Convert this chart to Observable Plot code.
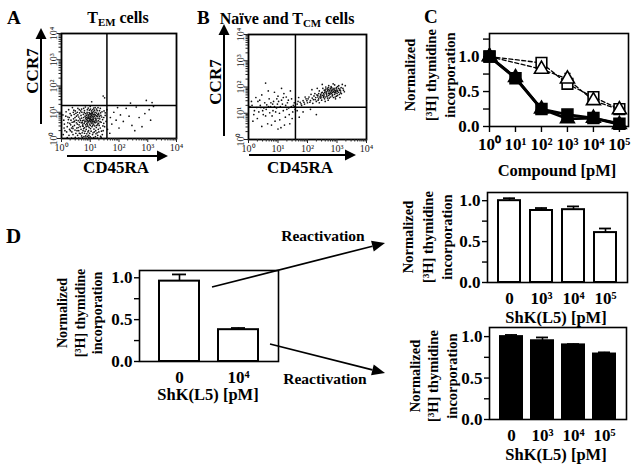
<!DOCTYPE html>
<html><head><meta charset="utf-8">
<script src="https://cdn.jsdelivr.net/npm/d3@7"></script>
<script src="https://cdn.jsdelivr.net/npm/@observablehq/plot@0.6"></script>
<style>
body{margin:0;background:#fff;}
#fig{position:relative;width:638px;height:464px;overflow:hidden;background:#fff;font-family:"Liberation Serif","Times New Roman",serif;}
#fig .p{position:absolute;}
#fig svg{overflow:visible;}
</style></head><body><div id="fig"></div>
<script>
// ---------- data ----------
// flow cytometry events, log10 units (CD45RA, CCR7)
const flowA = `0.72,0.62 0.78,0.70 0.85,0.66 0.90,0.75 0.95,0.81 1.00,0.72 1.05,0.88 1.10,0.79 1.15,0.93 1.20,0.70 1.25,0.84 1.02,0.95 0.93,0.90 0.88,0.58 0.98,0.55 1.08,0.63 1.18,0.60 1.28,0.68 1.12,1.02 1.04,1.05 0.96,0.99 0.82,0.85 0.76,0.92 0.70,0.78 0.66,0.69 1.22,0.97 1.30,0.90 1.33,0.75 1.26,0.55 1.16,0.48 1.06,0.45 0.92,0.47 0.84,0.52 0.80,0.41 1.00,0.83 1.07,0.74 1.14,0.85 0.99,0.64 0.91,0.68 0.87,0.80 1.03,0.60 1.11,0.91 1.19,0.78 1.24,1.06 1.09,1.10 0.97,1.08 0.89,1.00 0.79,0.99 0.74,0.55 0.68,0.88 1.36,0.98 1.40,0.82 1.38,0.62 1.31,0.50 1.21,0.42 1.13,0.36 1.01,0.38 0.94,0.30 0.86,0.35 1.05,0.97
0.81,0.63 0.86,0.72 0.92,0.60 0.97,0.70 1.01,0.78 1.06,0.68 1.11,0.72 1.16,0.66 1.21,0.86 1.27,0.77 1.09,0.84 1.03,0.90 0.95,0.86 0.89,0.94 0.84,0.78 0.77,0.80 0.73,0.68 0.79,0.58 0.90,0.52 1.00,0.50 1.12,0.55 1.23,0.63 1.32,0.83 1.17,1.00 1.07,1.00 0.99,0.91 0.94,0.77 1.04,0.82 1.13,0.78 1.18,0.90 0.87,0.88 0.83,0.95 0.71,1.00 0.75,0.47 0.96,0.42 1.09,0.50 1.23,0.50 1.29,0.96 1.02,0.66 0.93,0.64 0.98,0.96 1.14,0.62 1.08,0.94 0.91,0.82 1.20,0.74 1.26,0.91 0.86,0.45 1.34,0.64 1.37,0.88 0.69,0.60 1.15,1.08 0.80,1.06 1.01,1.12 1.22,1.12 0.90,1.10 1.29,0.58 1.06,0.57 0.97,0.76 1.10,0.66 1.04,0.71
0.15,0.85 0.22,0.60 0.30,0.95 0.35,0.40 0.42,0.75 0.48,1.05 0.55,0.55 0.60,0.30 0.63,0.98 0.50,0.20 0.40,0.15 0.28,0.35 0.18,0.25 0.10,0.55 0.05,0.90 0.25,1.10 0.38,1.18 0.57,1.15 0.70,1.12 0.83,1.20 1.00,1.22 1.17,1.18 1.35,1.15 1.48,1.05 1.52,0.88 1.55,0.65 1.50,0.45 1.45,0.30 1.42,0.15 1.30,0.25 1.20,0.18 1.10,0.22 0.95,0.12 0.80,0.20 0.70,0.10 0.65,0.45 0.45,0.50 0.33,0.70 0.52,0.85 0.58,0.68 0.47,0.32 0.62,0.20 0.75,0.30 0.55,1.00 0.44,0.92 0.20,0.45 0.12,0.30 0.08,0.70 0.32,0.52 0.27,0.80 1.58,1.10 1.60,0.35 1.47,0.58 1.43,0.72 0.67,1.05 0.37,0.62 0.53,0.40 0.73,0.48 0.60,0.82 0.41,1.00
0.24,0.72 0.29,0.58 0.34,0.88 0.39,0.45 0.43,0.63 0.47,0.80 0.51,0.70 0.54,0.30 0.57,0.90 0.61,0.52 0.64,0.75 0.36,0.25 0.43,1.08 0.52,0.60 0.58,0.42 0.63,0.62 0.68,0.35 0.72,0.22 0.77,0.38 0.82,0.28 0.88,0.18 0.92,0.25 0.98,0.20 1.03,0.28 1.08,0.15 1.14,0.25 1.19,0.30 1.24,0.22 1.28,0.35 1.35,0.40 1.39,0.28 1.44,0.48 1.47,0.80 1.52,0.98 1.41,1.02 1.32,1.06 1.27,1.18 1.12,1.16 0.93,1.16 0.77,1.15 0.62,1.10 0.50,0.96 0.45,0.66 0.40,0.38 0.31,0.30 0.22,0.82 0.16,1.02 0.09,0.40 0.06,0.15 0.26,0.12 0.56,0.12 0.66,0.18 0.84,0.10 1.26,0.12 1.36,0.08
0.20,0.03 0.35,0.02 0.48,0.04 0.60,0.02 0.72,0.03 0.85,0.02 0.95,0.04 1.05,0.02 1.12,0.03 1.25,0.02 1.38,0.04 0.90,0.08 1.00,0.06 0.78,0.07 1.18,0.07
1.70,0.80 1.75,0.55 1.82,1.00 1.90,0.70 2.00,0.40 2.05,0.90 2.15,0.65 2.25,1.15 2.35,0.85 2.45,0.50 2.60,1.20 2.70,0.80 2.90,0.95 3.05,1.10 3.20,1.22 2.55,0.30 1.68,0.20 1.95,1.18 2.80,0.45 3.10,0.70
1.45,1.62 1.50,1.55 2.40,1.35 2.95,1.45 3.15,1.37 1.05,1.40`;
const flowB = `2.50,1.80 2.60,1.85 2.70,1.90 2.80,1.82 2.90,1.95 3.00,1.88 3.10,1.92 2.75,1.75 2.85,1.70 2.95,1.78 3.05,1.80 2.65,1.70 2.55,1.65 2.45,1.72 2.35,1.68 2.40,1.85 2.52,1.95 2.62,2.00 2.72,2.05 2.82,1.98 2.92,2.08 3.02,2.02 3.12,1.85 3.20,1.95 3.15,1.75 2.98,1.65 2.88,1.60 2.78,1.62 2.68,1.58 2.58,1.55 2.48,1.50 2.38,1.55 2.28,1.60 2.25,1.75 2.30,1.45 2.20,1.52 2.18,1.38 2.10,1.48 2.05,1.62 2.12,1.72 2.00,1.40 1.95,1.55 1.90,1.35 1.85,1.48 1.80,1.30 1.75,1.42 1.70,1.60 1.65,1.35 2.42,1.62 2.73,1.82 2.83,1.88 2.93,1.86 2.63,1.78 3.08,1.72 3.25,1.82 3.28,2.05 2.87,2.12 2.57,1.88 2.67,1.93 2.77,1.96 2.97,1.93 3.18,2.10 2.15,1.90 2.33,1.95 2.50,2.10 2.95,1.55 3.10,1.60 2.60,1.45 2.40,1.40 2.70,1.50
2.55,1.75 2.65,1.82 2.75,1.88 2.85,1.80 2.95,1.85 3.05,1.95 2.70,1.98 2.80,2.02 2.90,1.90 3.00,1.76 2.60,1.62 2.72,1.68 2.82,1.75 2.92,1.72 3.02,1.68 2.45,1.58 2.35,1.62 2.50,1.68 2.62,1.92 2.78,1.78 2.88,1.83 2.98,1.98 3.08,1.88 3.14,1.98 2.68,1.86 2.58,1.80 2.48,1.78 2.38,1.75 2.86,1.92 2.76,1.72 2.66,1.64 2.96,1.82 3.06,2.05 2.84,1.66 2.94,1.62 2.74,1.58 2.54,1.60 2.44,1.66 2.32,1.70 2.22,1.66 2.26,1.52 2.16,1.58 2.08,1.42 1.98,1.48 1.88,1.42 1.78,1.36 1.68,1.45 1.92,1.62 2.02,1.55 2.36,1.50 3.22,1.88 3.12,1.78 2.71,1.76 2.81,1.86 2.91,1.79 2.64,1.74 2.56,1.70 2.46,1.62 3.01,1.84 2.79,1.93
0.10,1.45 0.20,1.10 0.25,1.60 0.30,0.80 0.40,1.30 0.45,1.70 0.50,0.95 0.55,1.40 0.60,1.15 0.65,0.60 0.70,1.55 0.75,1.25 0.80,0.90 0.85,1.45 0.90,0.70 0.95,1.20 1.00,1.65 1.05,1.00 1.10,0.45 1.15,1.35 1.20,1.75 1.25,0.85 1.30,1.15 1.35,1.50 1.40,0.60 1.45,1.25 1.50,1.05 1.55,1.40 0.35,1.05 0.15,0.70 0.05,1.25 0.58,2.15 0.88,1.80 1.12,1.95 0.78,0.55 1.00,0.40 1.22,0.55 0.45,0.50 0.67,1.85 0.92,1.05 1.18,1.10 1.38,0.95 0.52,1.20 0.72,1.02 0.98,1.35 1.28,1.62 1.48,0.80 1.58,1.15 0.83,1.10 1.08,1.25 0.62,1.32 0.38,1.50 0.28,1.22 0.18,0.95 1.42,1.85 1.65,1.10 1.72,0.85 1.85,1.05 2.10,1.15 2.30,0.95
0.12,1.30 0.32,1.45 0.48,1.10 0.68,1.25 0.82,1.35 0.96,1.55 1.12,1.50 1.26,1.30 1.36,1.20 1.52,1.30 0.58,0.90 0.76,1.40 1.02,1.45 1.18,1.60 1.32,1.40 0.42,1.22 0.88,1.25 1.06,0.75 1.46,1.55 1.56,1.25`;
const gateA = [38, 18];   // CD45RA, CCR7 quadrant gates
const gateB = [39, 17];
const flowTickLabels = ["10⁰", "10¹", "10²", "10³", "10⁴"];

// panel C
const doses = [1, 10, 100, 1000, 10000, 100000];
const doseTickLabels = ["10⁰", "10¹", "10²", "10³", "10⁴", "10⁵"];
const blackSquare = [1.0, 0.69, 0.25, 0.17, 0.12, 0.04];
const blackTriangle = [1.0, 0.70, 0.25, 0.11, 0.12, 0.03];
const openDoses = [1, 100, 1000, 10000, 100000];
const openSquare = [1.0, 0.91, 0.61, 0.42, 0.25];
const openSquareErr = [0, 0.02, 0.02, 0.05, 0.02];
const openTriangle = [1.0, 0.82, 0.68, 0.37, 0.24];
const openTriangleErr = [0, 0.02, 0.08, 0.03, 0.02];

// panel D
const primaryLabels = ["0", "10⁴"];
const primaryValues = [0.96, 0.38];
const primaryErr = [0.08, 0.02];
const reLabels = ["0", "10³", "10⁴", "10⁵"];
const reWhite = [1.0, 0.88, 0.89, 0.61];
const reWhiteErr = [0.03, 0.03, 0.04, 0.05];
const reBlack = [1.0, 0.95, 0.90, 0.79];
const reBlackErr = [0.02, 0.04, 0.01, 0.02];

// ---------- helpers ----------
const fig = document.getElementById("fig");
function place(node, left, top) {
  const d = document.createElement("div");
  d.className = "p"; d.style.left = left + "px"; d.style.top = top + "px";
  d.appendChild(node); fig.appendChild(d);
}
const parsePts = s => s.trim().split(/\s+/).map(p => p.split(",").map(Number)).map(([a, b]) => ({x: 10 ** a, y: 10 ** b}));
const decades = [1, 10, 100, 1000, 10000];
const minor = d3.range(0, 4).flatMap(k => d3.range(2, 10).map(m => m * 10 ** k));
const baseStyle = {fontFamily: "'Liberation Serif', serif", color: "#000", background: "none", overflow: "visible"};

function flowPlot(pts, gate, w, h, ml, mr, mt, mb) {
  return Plot.plot({
    width: w, height: h, marginLeft: ml, marginRight: mr, marginTop: mt, marginBottom: mb,
    style: {...baseStyle, fontSize: "10px", color: "#222"},
    x: {type: "log", domain: [1, 1e4]},
    y: {type: "log", domain: [1, 1e4]},
    marks: [
      Plot.dot(pts, {x: "x", y: "y", r: 0.85, fill: "#111", stroke: null}),
      Plot.ruleX([gate[0]], {stroke: "#000", strokeWidth: 1.5}),
      Plot.ruleY([gate[1]], {stroke: "#000", strokeWidth: 1.5}),
      Plot.frame({stroke: "#000", strokeWidth: 1.8}),
      Plot.axisX({ticks: minor, tickFormat: () => "", tickSize: 2.5, label: null}),
      Plot.axisY({ticks: minor, tickFormat: () => "", tickSize: 2.5, label: null}),
      Plot.axisX({ticks: decades, tickFormat: d => flowTickLabels[Math.round(Math.log10(d))], tickSize: 4, tickPadding: 1, label: null}),
      Plot.axisY({ticks: decades, tickFormat: d => flowTickLabels[Math.round(Math.log10(d))], tickSize: 4, tickPadding: 1, tickRotate: -90, label: null})
    ]
  });
}

function barPlot(labels, values, errs, fill, w, h, ml, mr, mt, mb, top, pad, capInset) {
  const data = labels.map((l, i) => ({l, v: values[i], e: errs[i]}));
  return Plot.plot({
    width: w, height: h, marginLeft: ml, marginRight: mr, marginTop: mt, marginBottom: mb,
    style: {...baseStyle, fontSize: "17px", fontWeight: "bold"},
    x: {domain: labels, padding: pad},
    y: {domain: [0, top]},
    marks: [
      Plot.ruleX(data, {x: "l", y1: "v", y2: d => d.v + d.e, stroke: "#000", strokeWidth: 1.6}),
      Plot.tickY(data, {x: "l", y: d => d.v + d.e, insetLeft: capInset, insetRight: capInset, stroke: "#000", strokeWidth: 1.8}),
      Plot.barY(data, {x: "l", y: "v", fill, stroke: "#000", strokeWidth: 2}),
      Plot.frame({stroke: "#000", strokeWidth: 1.6}),
      Plot.axisY({ticks: [0.25, 0.75], tickFormat: () => "", tickSize: 5, strokeWidth: 1.4, label: null}),
      Plot.axisY({ticks: [0, 0.5, 1], tickFormat: d => d.toFixed(1), tickSize: 5, tickPadding: 2, strokeWidth: 1.4, label: null}),
      Plot.axisX({tickSize: 0, tickPadding: 9, label: null})
    ]
  });
}

// ---------- panel A & B ----------
place(flowPlot(parsePts(flowA), gateA, 200, 180, 61, 24, 33, 42), 0, 0);
place(flowPlot(parsePts(flowB), gateB, 200, 180, 48, 34, 34, 41), 200, 0);

// ---------- panel C ----------
const cBlack = [
  ...doses.map((d, i) => ({d, v: blackTriangle[i], s: "tri"})),
  ...doses.map((d, i) => ({d, v: blackSquare[i], s: "sq"}))
];
const cOpen = [
  ...openDoses.map((d, i) => ({d, v: openTriangle[i], e: openTriangleErr[i], s: "tri"})),
  ...openDoses.map((d, i) => ({d, v: openSquare[i], e: openSquareErr[i], s: "sq"}))
];
const capW = 10 ** 0.12;
place(Plot.plot({
  width: 238, height: 210, marginLeft: 89, marginRight: 10, marginTop: 33, marginBottom: 84,
  style: {...baseStyle, fontSize: "17px", fontWeight: "bold"},
  x: {type: "log", domain: [1, 10 ** 5.35]},
  y: {domain: [0, 1.33]},
  marks: [
    Plot.ruleX(cOpen.filter(d => d.e > 0), {x: "d", y1: "v", y2: d => d.v + d.e, stroke: "#000", strokeWidth: 1.2}),
    Plot.link(cOpen.filter(d => d.e > 0), {x1: d => d.d / capW, x2: d => d.d * capW, y1: d => d.v + d.e, y2: d => d.v + d.e, stroke: "#000", strokeWidth: 1.2}),
    Plot.line(cOpen, {x: "d", y: "v", z: "s", stroke: "#000", strokeWidth: 1.3, strokeDasharray: "4,2.5"}),
    Plot.dot(cOpen.filter(d => d.s === "sq"), {x: "d", y: "v", symbol: "square", r: 6, fill: "#fff", stroke: "#000", strokeWidth: 1.6}),
    Plot.dot(cOpen.filter(d => d.s === "tri"), {x: "d", y: "v", symbol: "triangle", r: 5.2, fill: "#fff", stroke: "#000", strokeWidth: 1.6}),
    Plot.line(cBlack, {x: "d", y: "v", z: "s", stroke: "#000", strokeWidth: 2.8}),
    Plot.dot(cBlack.filter(d => d.s === "tri"), {x: "d", y: "v", symbol: "triangle", r: 5.2, fill: "#000", stroke: "#000"}),
    Plot.dot(cBlack.filter(d => d.s === "sq"), {x: "d", y: "v", symbol: "square", r: 6.2, fill: "#000", stroke: "#000"}),
    Plot.frame({stroke: "#000", strokeWidth: 1.6}),
    Plot.axisY({ticks: [0.25, 0.75, 1.25], tickFormat: () => "", tickSize: 6, strokeWidth: 1.4, label: null}),
    Plot.axisY({ticks: [0, 0.5, 1], tickFormat: d => d.toFixed(1), tickSize: 6, tickPadding: 4, strokeWidth: 1.4, label: null}),
    Plot.axisX({ticks: doses, tickFormat: d => doseTickLabels[Math.round(Math.log10(d))], tickSize: 6, tickPadding: 5, strokeWidth: 1.4, label: null})
  ]
}), 400, 0);

// ---------- panel D ----------
place(barPlot(primaryLabels, primaryValues, primaryErr, "#fff", 300, 200, 139, 22, 20, 89, 1.087, 0.33, 13), 0, 250);
place(barPlot(reLabels, reWhite, reWhiteErr, "#fff", 238, 140, 87, 11, 12, 38, 1.10, 0.3, 5), 400, 180);
place(barPlot(reLabels, reBlack, reBlackErr, "#000", 238, 144, 89, 12, 7, 45, 1.11, 0.3, 5), 400, 320);

// ---------- overlay: labels and arrows ----------
const ov = d3.select(fig).append("svg")
  .attr("width", 638).attr("height", 464)
  .style("position", "absolute").style("left", 0).style("top", 0)
  .style("font-family", "'Liberation Serif', serif").style("font-weight", "bold");

function label(x, y, s, size, opts = {}) {
  const t = ov.append("text").attr("x", x).attr("y", y)
    .attr("font-size", size).attr("text-anchor", opts.anchor || "middle")
    .attr("dominant-baseline", opts.baseline || "auto").text(s);
  if (opts.rotate) t.attr("transform", `rotate(${opts.rotate},${x},${y})`).attr("dominant-baseline", "central");
  return t;
}
function subTitle(x, y, pre, sub, post, size) {
  const t = ov.append("text").attr("x", x).attr("y", y).attr("font-size", size).attr("text-anchor", "middle");
  t.append("tspan").text(pre);
  t.append("tspan").attr("font-size", size * 0.68).attr("dy", 3).text(sub);
  t.append("tspan").attr("dy", -3).text(post);
}
function arrow(x1, y1, x2, y2, len, half, sw) {
  const a = Math.atan2(y2 - y1, x2 - x1);
  const bx = x2 - len * Math.cos(a), by = y2 - len * Math.sin(a);
  ov.append("line").attr("x1", x1).attr("y1", y1).attr("x2", bx).attr("y2", by).attr("stroke", "#000").attr("stroke-width", sw);
  const px = -Math.sin(a) * half, py = Math.cos(a) * half;
  ov.append("path").attr("d", `M${x2},${y2}L${bx + px},${by + py}L${bx - px},${by - py}Z`).attr("fill", "#000");
}
function yLabel3(xs, cy, size) {
  ["Normalized", "[³H] thymidine", "incorporation"].forEach((s, i) => label(xs[i], cy, s, size, {rotate: -90}));
}

// panel letters
label(7, 24, "A", 19, {anchor: "start"});
label(197, 24, "B", 19, {anchor: "start"});
label(424, 23, "C", 19, {anchor: "start"});
label(6, 243, "D", 21, {anchor: "start"});

// titles
subTitle(118, 23, "T", "EM", " cells", 16);
subTitle(287, 24, "Naïve and T", "CM", " cells", 16);

// flow axes
label(32, 71, "CCR7", 17, {rotate: -90});
label(215, 82, "CCR7", 17, {rotate: -90});
label(116, 173, "CD45RA", 17);
label(300, 173, "CD45RA", 17);
arrow(41, 124, 41, 28, 11, 5.5, 2);
arrow(67, 156, 168, 156, 11, 5.5, 2);
arrow(224, 136, 224, 24, 11, 5.5, 2);
arrow(249, 155, 356, 155, 11, 5.5, 2);

// panel C labels
label(557, 176, "Compound [pM]", 16.5);
yLabel3([410, 431, 450], 75, 14.5);

// panel D labels
label(208, 400, "ShK(L5) [pM]", 16.5);
yLabel3([62, 80, 97], 313, 14);
label(556, 323, "ShK(L5) [pM]", 16.5);
yLabel3([408, 428, 447], 237, 14.5);
label(556, 460, "ShK(L5) [pM]", 16.5);
yLabel3([415, 433, 452], 376, 14.5);

// reactivation arrows
label(323, 241, "Reactivation", 15.5);
label(325, 384, "Reactivation", 15.5);
arrow(212, 287, 385, 243, 13, 5.5, 1.7);
arrow(270, 344, 385, 373, 13, 5.5, 1.7);
</script></body></html>
